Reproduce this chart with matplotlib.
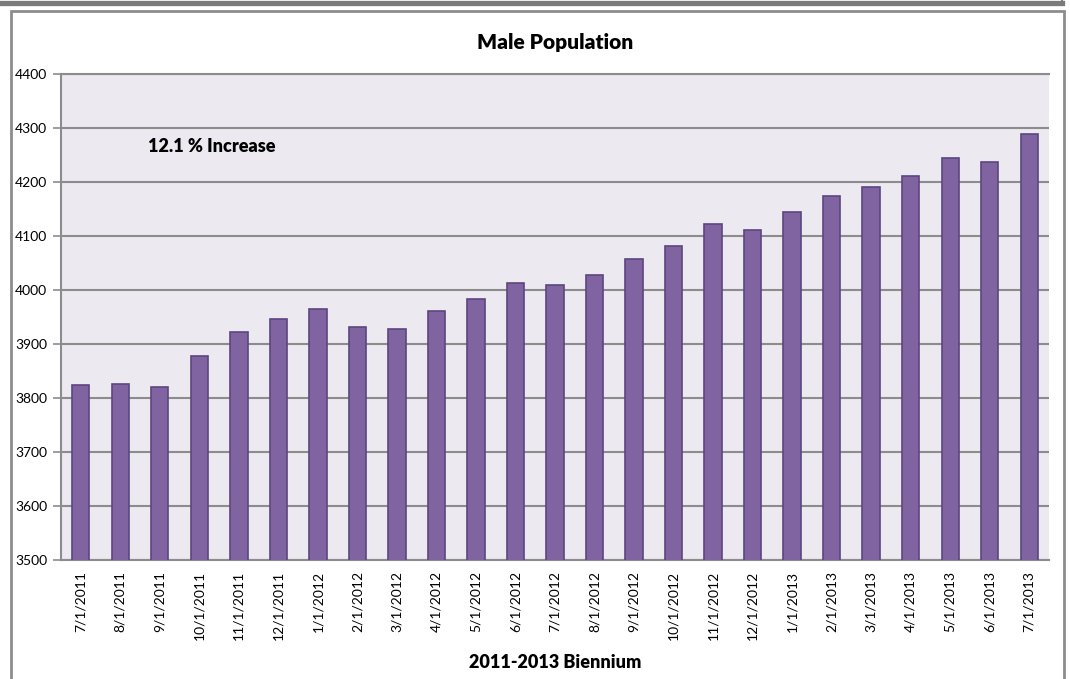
import numpy as np
import matplotlib.pyplot as plt
from matplotlib.patches import Rectangle
from matplotlib.lines import Line2D

plt.rcParams['font.family'] = ['Lato', 'DejaVu Sans']

# monthly male population counts, 2011-2013 biennium
months = ['7/1/2011', '8/1/2011', '9/1/2011', '10/1/2011', '11/1/2011', '12/1/2011',
          '1/1/2012', '2/1/2012', '3/1/2012', '4/1/2012', '5/1/2012', '6/1/2012',
          '7/1/2012', '8/1/2012', '9/1/2012', '10/1/2012', '11/1/2012', '12/1/2012',
          '1/1/2013', '2/1/2013', '3/1/2013', '4/1/2013', '5/1/2013', '6/1/2013',
          '7/1/2013']
population = [3824, 3826, 3820, 3878, 3923, 3946, 3965, 3932, 3928, 3961, 3983, 4013,
              4009, 4028, 4057, 4082, 4122, 4112, 4145, 4175, 4190, 4212, 4244, 4237,
              4288]
yticks = [3500, 3600, 3700, 3800, 3900, 4000, 4100, 4200, 4300, 4400]

W, H = 1070, 679
fig = plt.figure(figsize=(W / 100, H / 100), dpi=100)

# plot area in pixels: left 61, right 1049, top 74, bottom 560
ax = fig.add_axes([61 / W, 1 - 560 / H, (1049 - 61) / W, (560 - 74) / H])
ax.set_facecolor('#ECEAF0')

x = np.arange(len(months))
ax.bar(x, population, width=0.44, bottom=0, color='#8064A2', edgecolor='#5C4680',
       linewidth=1.2, zorder=3)

ax.set_ylim(3500, 4400)
ax.set_xlim(-0.5, len(months) - 0.5)
ax.set_yticks(yticks)
ax.set_yticklabels([str(v) for v in yticks], fontsize=10)
ax.set_xticks(x)
ax.set_xticklabels(months, rotation=90, fontsize=10)
ax.tick_params(axis='x', length=0, pad=8)
ax.tick_params(axis='y', length=6, width=1.2, color='#8C8C8C', pad=4)
ax.yaxis.grid(True, color='#8C8C8C', linewidth=1.5, zorder=1)
ax.set_axisbelow(True)
ax.spines['right'].set_visible(False)
for side in ['top', 'left', 'bottom']:
    ax.spines[side].set_color('#8C8C8C')
    ax.spines[side].set_linewidth(1.5)

fig.text(555 / W, 1 - 43 / H, 'Male Population', ha='center', va='center',
         fontsize=15, fontweight='heavy')
fig.text(148 / W, 1 - 146 / H, '12.1 % Increase', ha='left', va='center',
         fontsize=13, fontweight='heavy')
fig.text(555 / W, 1 - 662 / H, '2011-2013 Biennium', ha='center', va='center',
         fontsize=13, fontweight='heavy')

# outer frame: dark band on top, chart border below it
fig.add_artist(Line2D([0, 1062 / W], [1 - 2.5 / H, 1 - 2.5 / H], color='#7A7A7A',
                      linewidth=3.8))
fig.add_artist(Line2D([1062 / W, 1062 / W], [1, 1 - 3 / H], color='#7A7A7A', linewidth=1.5))
fig.add_artist(Rectangle((10.5 / W, -0.01), (1063.5 - 10.5) / W, 1 - 11 / H + 0.01,
                         transform=fig.transFigure, fill=False, edgecolor='#8C8C8C',
                         linewidth=2.0))

fig.savefig('out.png', dpi=100)
